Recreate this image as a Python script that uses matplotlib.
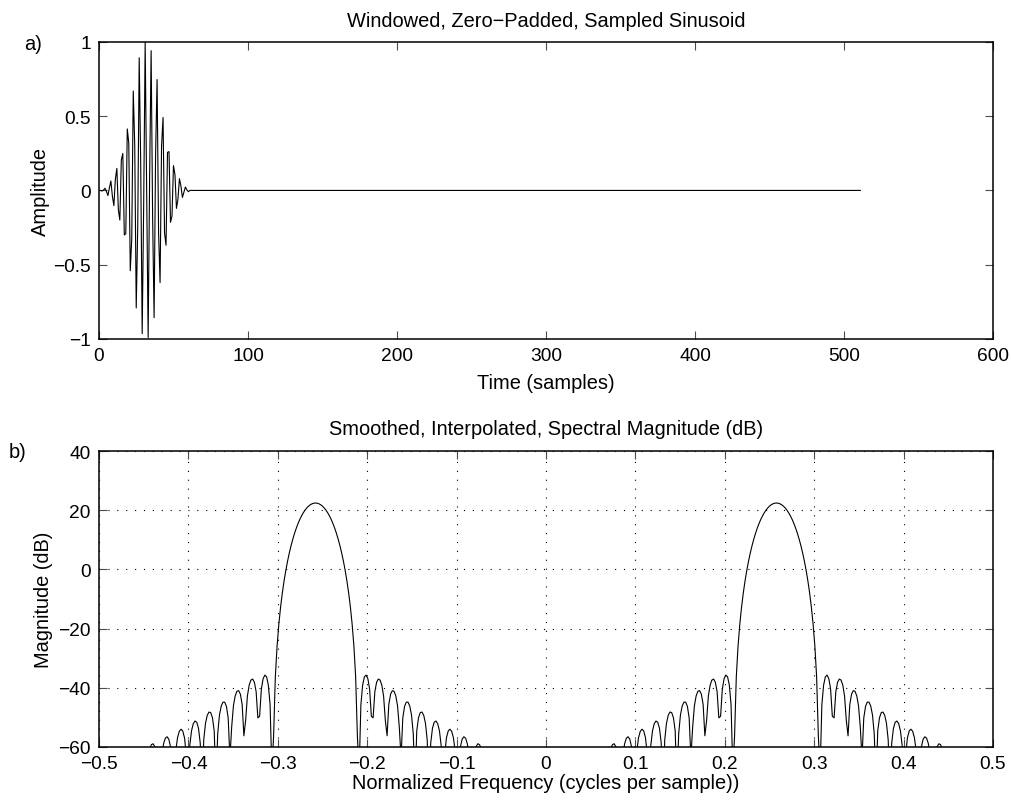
import numpy as np
import matplotlib
matplotlib.use('Agg')
import matplotlib.pyplot as plt
from matplotlib.ticker import FuncFormatter

# Blackman-windowed sinusoid, 64 samples (f = 0.25 + 0.5/64), zero-padded to 512
window_samples = [
    -0.0000000, -0.0000441, -0.0036144, 0.0012197, 0.0148303, -0.0059027, -0.0345531, 0.0171375,
    0.0636434, -0.0386738, -0.1021476, 0.0746452, 0.1485714, -0.1288596, -0.1994371, 0.2038373,
    0.2493010, -0.2998227, -0.2913026, 0.4140316, 0.3181799, -0.5403690, -0.3235634, 0.6697615,
    0.3032783, -0.7911169, -0.2563627, 0.8927815, 0.1855562, -0.9642457, -0.0971214, 0.9977776,
    0.0000000, -0.9896677, 0.0955468, 0.9408353, -0.1795540, -0.8566756, 0.2439069, 0.7461778,
    -0.2835284, -0.6204918, 0.2969799, 0.4912286, -0.2863813, -0.3688192, 0.2567045, 0.2612333,
    -0.2146271, -0.1732625, 0.1672149, 0.1064427, -0.1207254, -0.0595454, 0.0797728, 0.0294530,
    -0.0469974, -0.0121644, 0.0232469, 0.0036741, -0.0081530, -0.0005329, 0.0008941, -0.0000000,
]
nfft = 512

xticks_a = [0, 100, 200, 300, 400, 500, 600]
yticks_a = [-1, -0.5, 0, 0.5, 1]
xticks_b = [-0.5, -0.4, -0.3, -0.2, -0.1, 0, 0.1, 0.2, 0.3, 0.4, 0.5]
yticks_b = [-60, -40, -20, 0, 20, 40]

# zero-pad, then the magnitude spectrum in dB (fft-shifted)
sig = np.zeros(nfft)
sig[:len(window_samples)] = window_samples
spec = np.fft.fftshift(np.fft.fft(sig))
spec_db = 20 * np.log10(np.abs(spec) + 1e-12)
freqs = np.arange(-nfft // 2, nfft // 2) / nfft

plt.rcParams['font.family'] = ['Liberation Sans', 'DejaVu Sans']
plt.rcParams['font.size'] = 13.8
fs_lab = 14.4


def fmt(v, pos):
    s = '%g' % (round(v, 6) + 0.0)
    return s.replace('-', '\u2212')


def style(ax):
    for sp in ax.spines.values():
        sp.set_linewidth(1.1)
    ax.tick_params(direction='in', length=6, width=0.8, color='0.3',
                   top=True, right=True, pad=6, labelsize=13.8)
    ax.xaxis.set_major_formatter(FuncFormatter(fmt))
    ax.yaxis.set_major_formatter(FuncFormatter(fmt))


fig = plt.figure(figsize=(10.12, 8.03), dpi=100)

# a) time domain
ax1 = fig.add_axes([0.0978, 0.5766, 0.8834, 0.370])
ax1.plot(np.arange(nfft), sig, color='k', lw=0.8)
ax1.set_xlim(0, 600)
ax1.set_ylim(-1, 1)
ax1.set_xticks(xticks_a)
ax1.set_yticks(yticks_a)
style(ax1)
ax1.set_title('Windowed, Zero\u2212Padded, Sampled Sinusoid', fontsize=fs_lab, pad=11.5)
ax1.set_xlabel('Time (samples)', fontsize=fs_lab, va='center')
ax1.xaxis.set_label_coords(0.5, -0.145)
ax1.set_ylabel('Amplitude', fontsize=fs_lab, va='center')
ax1.yaxis.set_label_coords(-0.066, 0.5)

# b) spectrum
ax2 = fig.add_axes([0.0978, 0.0685, 0.8834, 0.3686])
ax2.plot(freqs, spec_db, color='k', lw=0.8)
ax2.set_xlim(-0.5, 0.5)
ax2.set_ylim(-60, 40)
ax2.set_xticks(xticks_b)
ax2.set_yticks(yticks_b)
style(ax2)
ax2.grid(True, color='k', linestyle=(0, (1, 7)), linewidth=0.8)
ax2.set_title('Smoothed, Interpolated, Spectral Magnitude (dB)', fontsize=fs_lab, pad=12)
ax2.set_xlabel('Normalized Frequency (cycles per sample))', fontsize=fs_lab, va='center')
ax2.xaxis.set_label_coords(0.5, -0.12)
ax2.set_ylabel('Magnitude (dB)', fontsize=fs_lab, va='center')
ax2.yaxis.set_label_coords(-0.0626, 0.5)

fig.text(33 / 1012, 1 - 45 / 803, 'a)', fontsize=fs_lab, ha='center', va='center')
fig.text(18 / 1012, 1 - 453 / 803, 'b)', fontsize=fs_lab, ha='center', va='center')

fig.savefig('out.png', dpi=100)
